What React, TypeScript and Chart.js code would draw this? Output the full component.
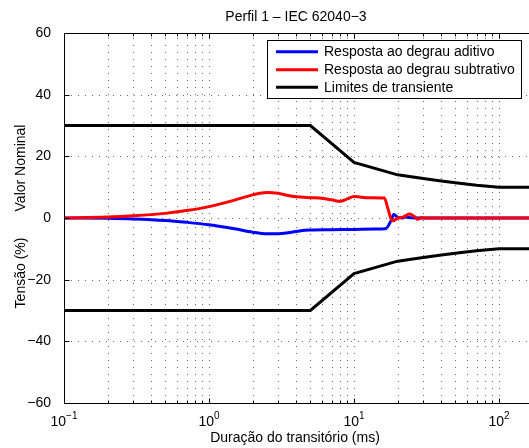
import React, { useEffect, useRef } from 'react';
import { Chart, registerables } from 'chart.js';

Chart.register(...registerables);

// ---- Data ----
const X_MIN = 0.1;
const X_MAX = 161;
const Y_MIN = -60;
const Y_MAX = 60;
const Y_TICKS = [-60, -40, -20, 0, 20, 40, 60];
const X_DECADES = [0.1, 1, 10, 100];
const X_MULTIPLIERS = [1, 2, 3, 4, 5, 6, 7, 8, 9];
const X_TICK_EXPONENTS = [-1, 0, 1, 2];

const LIMIT_T = [0.1, 5, 10, 20, 30, 40, 50, 70, 100, 200];
const LIMIT_UPPER = [30, 30, 18, 14, 12.8, 12, 11.4, 10.6, 10, 10];
const LIMIT_LOWER = [-30, -30, -18, -14, -12.8, -12, -11.4, -10.6, -10, -10];

const ADD_T = [0.1, 0.2, 0.3, 0.5, 0.7, 1.0, 1.5, 2.0, 2.5, 3.0, 3.5, 4.3, 5.0, 7.0, 10, 14, 16.5, 17.9, 18.8, 20.1, 21.5, 22.5, 25, 28, 200];
const ADD_V = [0, -0.1, -0.3, -0.8, -1.4, -2.2, -3.5, -4.6, -5.1, -5.1, -4.8, -4.1, -3.9, -3.8, -3.7, -3.6, -3.5, -1.1, 1.1, 0.2, 0, 0.3, 0.1, 0, 0];

const SUB_T = [0.1, 0.2, 0.3, 0.5, 0.7, 1.0, 1.5, 2.0, 2.5, 3.0, 3.5, 4.0, 5.0, 6.0, 7.0, 8.0, 9.0, 10, 11, 13, 16.2, 17.1, 17.9, 18.5, 19.2, 20.1, 21.8, 24.2, 26.2, 27.5, 29, 31, 200];
const SUB_V = [0, 0.3, 0.7, 1.5, 2.4, 3.7, 5.8, 7.5, 8.3, 8.0, 7.3, 6.9, 6.6, 6.4, 5.9, 5.4, 6.2, 7.0, 6.8, 6.6, 6.5, 3.2, 0, -0.9, -0.6, 0, 0.3, 1.3, 0.4, -0.4, 0.1, 0, 0];

const TITLE = 'Perfil 1 \u2013 IEC 62040\u22123';
const X_LABEL = 'Dura\u00e7\u00e3o do transit\u00f3rio (ms)';
const Y_LABEL_A = 'Tens\u00e3o (%)';
const Y_LABEL_B = 'Valor Nominal';
const LEGEND_LABELS = ['Resposta ao degrau aditivo', 'Resposta ao degrau subtrativo', 'Limites de transiente'];
const LEGEND_COLORS = ['#0000ff', '#ff0000', '#000000'];

const FONT = "'Liberation Sans', Arial, Helvetica, sans-serif";

const pts = (t: number[], v: number[]) => t.map((x, i) => ({ x, y: v[i] }));
const minus = (n: number) => (n < 0 ? '\u2212' + Math.abs(n) : String(n));

const X_GRID = X_DECADES.flatMap((d) => X_MULTIPLIERS.map((m) => ({ v: d * m, major: m === 1 }))).filter(
  (t) => t.v >= X_MIN && t.v <= X_MAX
);

const gridPlugin = {
  id: 'mgrid',
  beforeDatasetsDraw(chart: any) {
    const { ctx, chartArea } = chart;
    const { left, right, top, bottom } = chartArea;
    const xs = chart.scales.x;
    const ys = chart.scales.y;
    ctx.save();
    ctx.strokeStyle = '#6a6a6a';
    ctx.lineWidth = 1;
    ctx.setLineDash([1, 6]);
    X_GRID.forEach((t) => {
      const px = Math.round(xs.getPixelForValue(t.v)) + 0.5;
      ctx.beginPath();
      ctx.moveTo(px, bottom);
      ctx.lineTo(px, top);
      ctx.stroke();
    });
    Y_TICKS.forEach((v) => {
      const py = Math.round(ys.getPixelForValue(v)) + 0.5;
      ctx.beginPath();
      ctx.moveTo(left, py);
      ctx.lineTo(right, py);
      ctx.stroke();
    });
    ctx.restore();
  },
};

const overlayPlugin = {
  id: 'overlay',
  afterDraw(chart: any) {
    const { ctx, chartArea } = chart;
    const { left, right, top, bottom } = chartArea;
    const xs = chart.scales.x;
    const ys = chart.scales.y;
    ctx.save();
    ctx.setLineDash([]);
    ctx.strokeStyle = '#000';
    ctx.lineWidth = 1;
    // axes box (right side is cropped)
    const L = Math.round(left) + 0.5;
    const T = Math.round(top) + 0.5;
    const B = Math.round(bottom) + 0.5;
    ctx.beginPath();
    ctx.moveTo(right, T);
    ctx.lineTo(L, T);
    ctx.lineTo(L, B);
    ctx.lineTo(right, B);
    ctx.stroke();
    // inner tick marks
    X_GRID.forEach((t) => {
      const px = Math.round(xs.getPixelForValue(t.v)) + 0.5;
      const len = t.major ? 5 : 3;
      ctx.beginPath();
      ctx.moveTo(px, B);
      ctx.lineTo(px, B - len);
      ctx.moveTo(px, T);
      ctx.lineTo(px, T + len);
      ctx.stroke();
    });
    Y_TICKS.forEach((v) => {
      const py = Math.round(ys.getPixelForValue(v)) + 0.5;
      ctx.beginPath();
      ctx.moveTo(L, py);
      ctx.lineTo(L + 5, py);
      ctx.stroke();
    });

    ctx.fillStyle = '#000';
    // x tick labels with superscript exponents
    X_TICK_EXPONENTS.forEach((e) => {
      const px = xs.getPixelForValue(Math.pow(10, e));
      ctx.font = `14px ${FONT}`;
      const baseW = ctx.measureText('10').width;
      ctx.font = `10px ${FONT}`;
      const expStr = minus(e);
      const expW = ctx.measureText(expStr).width;
      const start = px - (baseW + expW) / 2;
      ctx.textAlign = 'left';
      ctx.textBaseline = 'alphabetic';
      ctx.font = `14px ${FONT}`;
      ctx.fillText('10', start, 426);
      ctx.font = `10px ${FONT}`;
      ctx.fillText(expStr, start + baseW, 419);
    });

    // title
    ctx.font = `14px ${FONT}`;
    ctx.textAlign = 'center';
    ctx.textBaseline = 'alphabetic';
    ctx.fillText(TITLE, 296, 21);
    // x label
    ctx.fillText(X_LABEL, 295, 442);
    // y label (two parts)
    ctx.save();
    ctx.translate(21, 273);
    ctx.rotate(-Math.PI / 2);
    ctx.textBaseline = 'middle';
    ctx.fillText(Y_LABEL_A, 0, 0);
    ctx.restore();
    ctx.save();
    ctx.translate(21, 168);
    ctx.rotate(-Math.PI / 2);
    ctx.textBaseline = 'middle';
    ctx.fillText(Y_LABEL_B, 0, 0);
    ctx.restore();

    // legend
    const lx = 267.5, ly = 40.5, lw = 254, lh = 58;
    ctx.fillStyle = '#fff';
    ctx.fillRect(lx, ly, lw, lh);
    ctx.strokeStyle = '#000';
    ctx.lineWidth = 1;
    ctx.strokeRect(lx, ly, lw, lh);
    const rows = [51.7, 69.7, 87.3];
    LEGEND_LABELS.forEach((lab, i) => {
      ctx.strokeStyle = LEGEND_COLORS[i];
      ctx.lineWidth = 3;
      ctx.beginPath();
      ctx.moveTo(276, rows[i]);
      ctx.lineTo(318, rows[i]);
      ctx.stroke();
      ctx.fillStyle = '#000';
      ctx.font = `14px ${FONT}`;
      ctx.textAlign = 'left';
      ctx.textBaseline = 'middle';
      ctx.fillText(lab, 324, rows[i] + 0.5);
    });
    ctx.restore();
  },
};

export default function App() {
  const ref = useRef<HTMLCanvasElement>(null);
  useEffect(() => {
    const canvas = ref.current!;
    const common = { pointRadius: 0, borderWidth: 3, fill: false, showLine: true };
    const chart = new Chart(canvas, {
      type: 'line',
      data: {
        datasets: [
          { ...common, label: LEGEND_LABELS[1], data: pts(SUB_T, SUB_V), borderColor: '#ff0000', cubicInterpolationMode: 'monotone' },
          { ...common, label: LEGEND_LABELS[0], data: pts(ADD_T, ADD_V), borderColor: '#0000ff', cubicInterpolationMode: 'monotone' },
          { ...common, label: LEGEND_LABELS[2], data: pts(LIMIT_T, LIMIT_UPPER), borderColor: '#000000', tension: 0 },
          { ...common, label: LEGEND_LABELS[2], data: pts(LIMIT_T, LIMIT_LOWER), borderColor: '#000000', tension: 0 },
        ],
      } as any,
      options: {
        responsive: false,
        animation: false,
        devicePixelRatio: 1,
        events: [],
        layout: { padding: { top: 33, right: 0, left: 0, bottom: 0 } },
        plugins: {
          legend: { display: false },
          title: { display: false },
          tooltip: { enabled: false },
        },
        scales: {
          x: {
            type: 'logarithmic',
            min: X_MIN,
            max: X_MAX,
            grid: { display: false },
            border: { display: false },
            ticks: { display: false },
            afterFit: (s: any) => {
              s.height = 45;
            },
          },
          y: {
            type: 'linear',
            min: Y_MIN,
            max: Y_MAX,
            grid: { display: false },
            border: { display: false },
            afterBuildTicks: (s: any) => {
              s.ticks = Y_TICKS.map((v) => ({ value: v }));
            },
            ticks: {
              padding: 5,
              color: '#000',
              font: { family: FONT, size: 14 },
              callback: (v: any) => minus(Number(v)),
            },
            afterFit: (s: any) => {
              s.width = 64;
            },
          },
        },
      } as any,
      plugins: [gridPlugin, overlayPlugin],
    });
    return () => chart.destroy();
  }, []);
  return (
    <div style={{ position: 'absolute', left: 0, top: 0, width: 529, height: 448, background: '#fff' }}>
      <canvas ref={ref} width={529} height={448} style={{ display: 'block', width: 529, height: 448 }} />
    </div>
  );
}
